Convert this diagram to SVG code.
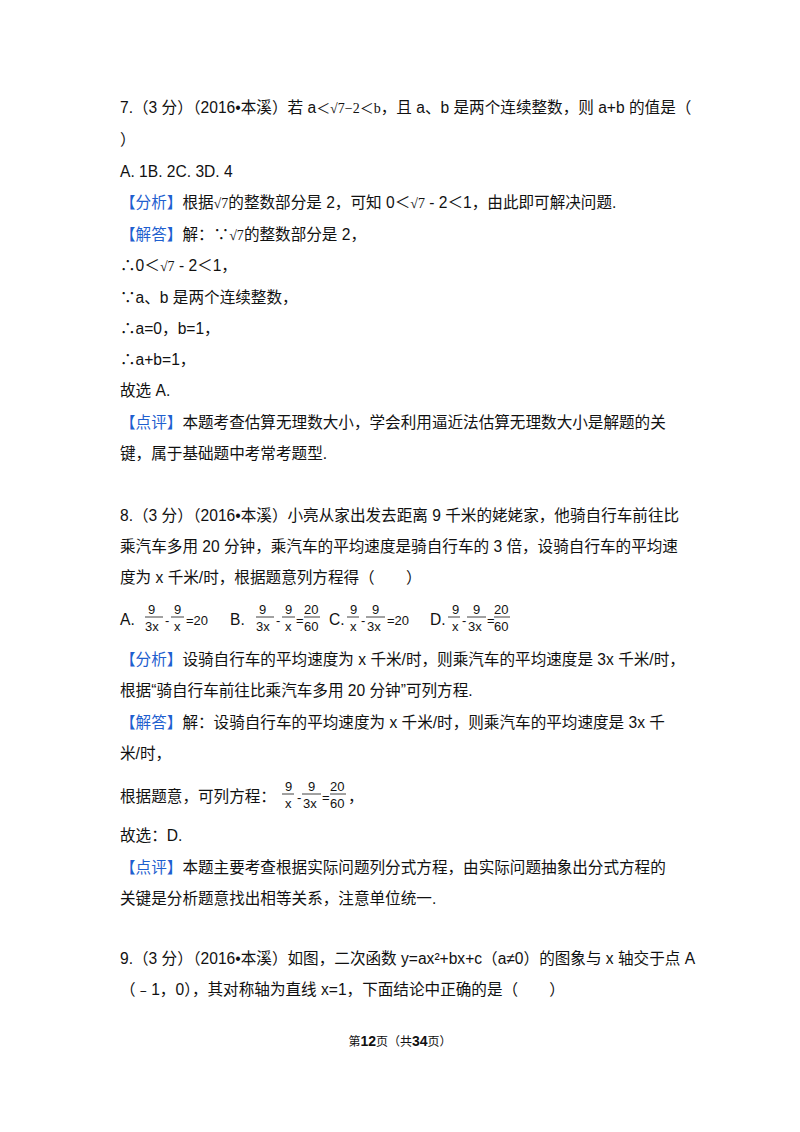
<svg xmlns="http://www.w3.org/2000/svg" width="800" height="1132" viewBox="0 0 800 1132">
<style>
text{font-family:"Liberation Sans","Noto Sans CJK SC",sans-serif;font-size:15.6px;fill:#111}
.b{fill:#1f5fcf}
.m{font-family:"Liberation Serif","Noto Sans CJK SC",serif;font-size:14px}
.f{font-family:"Liberation Sans",sans-serif;font-size:13px}
line{stroke:#111;stroke-width:0.8}
</style>
<rect width="800" height="1132" fill="#fff"/>
<text x="120" y="113">7.（3 分）（2016•本溪）若 a<tspan class="m">＜√7−2＜b</tspan>，且 a、b 是两个连续整数，则 a+b 的值是（</text>
<text x="120" y="145">）</text>
<text x="120" y="177">A. 1B. 2C. 3D.  4</text>
<text x="120" y="208"><tspan class="b">【分析】</tspan>根据<tspan class="m">√7</tspan>的整数部分是 2，可知 0＜<tspan class="m">√7</tspan> - 2＜1，由此即可解决问题.</text>
<text x="120" y="240"><tspan class="b">【解答】</tspan>解：∵<tspan class="m">√7</tspan>的整数部分是 2，</text>
<text x="120" y="271">∴0＜<tspan class="m">√7</tspan> - 2＜1，</text>
<text x="120" y="303">∵a、b 是两个连续整数，</text>
<text x="120" y="334">∴a=0，b=1，</text>
<text x="120" y="365">∴a+b=1，</text>
<text x="120" y="396">故选 A.</text>
<text x="120" y="428"><tspan class="b">【点评】</tspan>本题考查估算无理数大小，学会利用逼近法估算无理数大小是解题的关</text>
<text x="120" y="459">键，属于基础题中考常考题型.</text>

<text x="120" y="521">8.（3 分）（2016•本溪）小亮从家出发去距离 9 千米的姥姥家，他骑自行车前往比</text>
<text x="120" y="552">乘汽车多用 20 分钟，乘汽车的平均速度是骑自行车的 3 倍，设骑自行车的平均速</text>
<text x="120" y="583">度为 x 千米/时，根据题意列方程得（　　）</text>

<g class="opts">
<text x="120" y="625">A.</text>
<text class="f" x="148" y="614">9</text><line x1="145" y1="617" x2="163" y2="617"/><text class="f" x="145" y="631">3x</text>
<text class="f" x="165" y="625">-</text>
<text class="f" x="174" y="614">9</text><line x1="171" y1="617" x2="184" y2="617"/><text class="f" x="174" y="631">x</text>
<text class="f" x="186" y="625">=20</text>
<text x="230" y="625">B.</text>
<text class="f" x="259" y="614">9</text><line x1="256" y1="617" x2="274" y2="617"/><text class="f" x="256" y="631">3x</text>
<text class="f" x="276" y="625">-</text>
<text class="f" x="285" y="614">9</text><line x1="282" y1="617" x2="295" y2="617"/><text class="f" x="285" y="631">x</text>
<text class="f" x="296" y="625">=</text>
<text class="f" x="304" y="614">20</text><line x1="304" y1="617" x2="320" y2="617"/><text class="f" x="304" y="631">60</text>
<text x="329" y="625">C.</text>
<text class="f" x="350" y="614">9</text><line x1="347" y1="617" x2="359" y2="617"/><text class="f" x="350" y="631">x</text>
<text class="f" x="361" y="625">-</text>
<text class="f" x="372" y="614">9</text><line x1="366" y1="617" x2="385" y2="617"/><text class="f" x="367" y="631">3x</text>
<text class="f" x="387" y="625">=20</text>
<text x="430" y="625">D.</text>
<text class="f" x="452" y="614">9</text><line x1="448" y1="617" x2="460" y2="617"/><text class="f" x="452" y="631">x</text>
<text class="f" x="462" y="625">-</text>
<text class="f" x="473" y="614">9</text><line x1="467" y1="617" x2="486" y2="617"/><text class="f" x="468" y="631">3x</text>
<text class="f" x="487" y="625">=</text>
<text class="f" x="494" y="614">20</text><line x1="494" y1="617" x2="510" y2="617"/><text class="f" x="494" y="631">60</text>
</g>
<text x="120" y="665"><tspan class="b">【分析】</tspan>设骑自行车的平均速度为 x 千米/时，则乘汽车的平均速度是 3x 千米/时，</text>
<text x="120" y="696">根据“骑自行车前往比乘汽车多用 20 分钟”可列方程.</text>
<text x="120" y="728"><tspan class="b">【解答】</tspan>解：设骑自行车的平均速度为 x 千米/时，则乘汽车的平均速度是 3x 千</text>
<text x="120" y="759">米/时，</text>
<text x="120" y="802">根据题意，可列方程：</text>
<text class="f" x="285" y="791">9</text><line x1="282" y1="794" x2="294" y2="794"/><text class="f" x="285" y="808">x</text>
<text class="f" x="297" y="802">-</text>
<text class="f" x="308" y="791">9</text><line x1="302" y1="794" x2="321" y2="794"/><text class="f" x="303" y="808">3x</text>
<text class="f" x="322" y="802">=</text>
<text class="f" x="330" y="791">20</text><line x1="330" y1="794" x2="346" y2="794"/><text class="f" x="330" y="808">60</text>
<text x="348" y="802">，</text>
<text x="120" y="841">故选：D.</text>
<text x="120" y="873"><tspan class="b">【点评】</tspan>本题主要考查根据实际问题列分式方程，由实际问题抽象出分式方程的</text>
<text x="120" y="904">关键是分析题意找出相等关系，注意单位统一.</text>

<text x="120" y="964">9.（3 分）（2016•本溪）如图，二次函数 y=ax²+bx+c（a≠0）的图象与 x 轴交于点 A</text>
<text x="120" y="995">（﹣1，0），其对称轴为直线 x=1，下面结论中正确的是（　　）</text>

<text x="400" y="1046" text-anchor="middle" style="font-size:12px">第<tspan font-weight="bold" font-size="14">12</tspan>页（共<tspan font-weight="bold" font-size="14">34</tspan>页）</text>
</svg>
